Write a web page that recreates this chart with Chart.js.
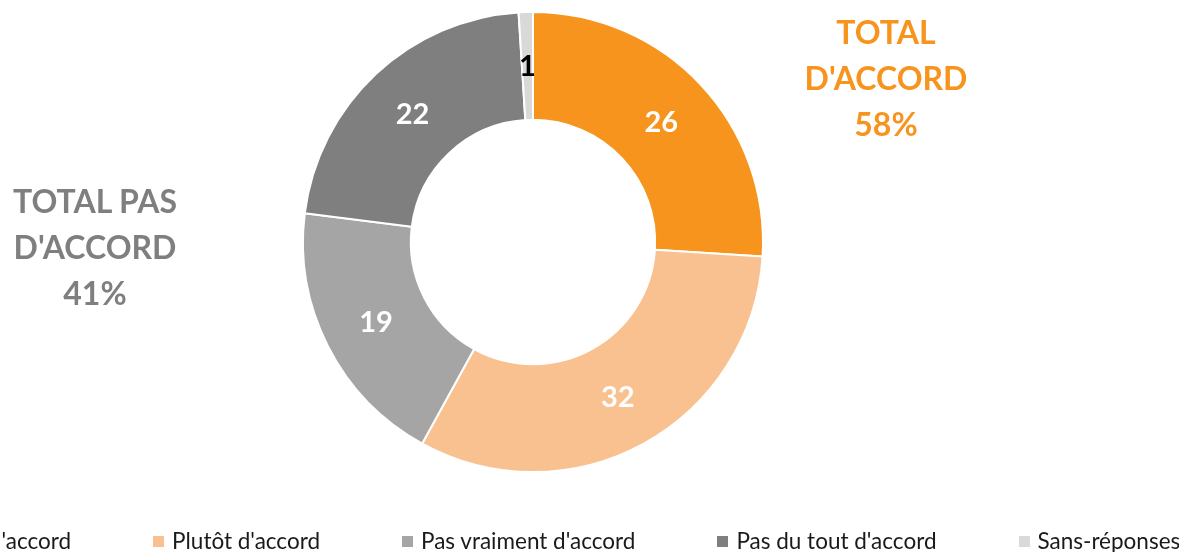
<!DOCTYPE html>
<html>
<head>
<meta charset="utf-8">
<script src="https://cdn.jsdelivr.net/npm/chart.js@4"></script>
<style>
  html, body { margin: 0; padding: 0; background: #fff; overflow: hidden; }
  #wrap { position: relative; width: 1179px; height: 552px; overflow: hidden; }
  #chartBox { position: absolute; left: 0; top: 0; width: 1179px; height: 552px; }
  .total { position: absolute; width: 220px; text-align: center; font: bold 32px Lato, sans-serif; line-height: 46px; }
  #totAccord { left: 776px; top: 9px; color: #F7941E; }
  #totPas { left: -15px; top: 178px; color: #7F7F7F; }
  #legend { position: absolute; left: -135px; top: 528px; display: flex; white-space: nowrap;
            font: 22.5px Lato, sans-serif; color: #1a1a1a; line-height: 26px; }
  #legend .item { display: flex; align-items: center; margin-right: 82px; }
  #legend .box { width: 11px; height: 11px; margin-right: 8px; }
</style>
</head>
<body>
<div id="wrap">
  <div id="chartBox"><canvas id="DonutChart"></canvas></div>
  <div class="total" id="totAccord">TOTAL<br>D'ACCORD<br>58%</div>
  <div class="total" id="totPas">TOTAL PAS<br>D'ACCORD<br>41%</div>
  <div id="legend"></div>
</div>
<script>
// categories + values
const Answers = [
  "Tout à fait d'accord",
  "Plutôt d'accord",
  "Pas vraiment d'accord",
  "Pas du tout d'accord",
  'Sans-réponses'
];
const AnswerValues = [26, 32, 19, 22, 1];
const AnswerColors = ['#F7941E', '#F9C190', '#A5A5A5', '#7F7F7F', '#D9D9D9'];
const LabelColors = ['#fff', '#fff', '#fff', '#fff', '#000'];

//labels in the middle of each slice
const sliceLabels = {
  id: 'sliceLabels',
  afterDatasetsDraw(chart) {
    const ctx = chart.ctx;
    const meta = chart.getDatasetMeta(0);
    ctx.save();
    ctx.font = 'bold 29px Lato, sans-serif';
    ctx.textAlign = 'center';
    ctx.textBaseline = 'middle';
    meta.data.forEach((arc, i) => {
      const p = arc.getProps(['x', 'y', 'startAngle', 'endAngle', 'innerRadius', 'outerRadius']);
      const a = (p.startAngle + p.endAngle) / 2;
      const r = (p.innerRadius + p.outerRadius) / 2;
      ctx.fillStyle = LabelColors[i];
      ctx.fillText(String(AnswerValues[i]), p.x + Math.cos(a) * r, p.y + Math.sin(a) * r + 1);
    });
    ctx.restore();
  }
};

//Data
const DonutData = {
  labels: Answers,
  datasets: [{
    data: AnswerValues,
    backgroundColor: AnswerColors,
    borderColor: '#fff',
    borderWidth: 2
  }]
};

//config
const DonutConfig = {
  type: 'doughnut',
  data: DonutData,
  options: {
    responsive: true,
    maintainAspectRatio: false,
    animation: false,
    radius: 230,
    cutout: 128,
    layout: { padding: { right: 113, bottom: 68 } },
    plugins: {
      legend: { display: false },
      tooltip: { enabled: false }
    }
  },
  plugins: [sliceLabels]
};

//View
const DonutChart = new Chart(document.getElementById('DonutChart'), DonutConfig);

// html legend from the chart's own legend items
const legendBox = document.getElementById('legend');
DonutChart.options.plugins.legend.labels.generateLabels(DonutChart).forEach(item => {
  const el = document.createElement('div');
  el.className = 'item';
  const sq = document.createElement('span');
  sq.className = 'box';
  sq.style.background = item.fillStyle;
  const tx = document.createElement('span');
  tx.textContent = item.text;
  el.appendChild(sq);
  el.appendChild(tx);
  legendBox.appendChild(el);
});
</script>
</body>
</html>
